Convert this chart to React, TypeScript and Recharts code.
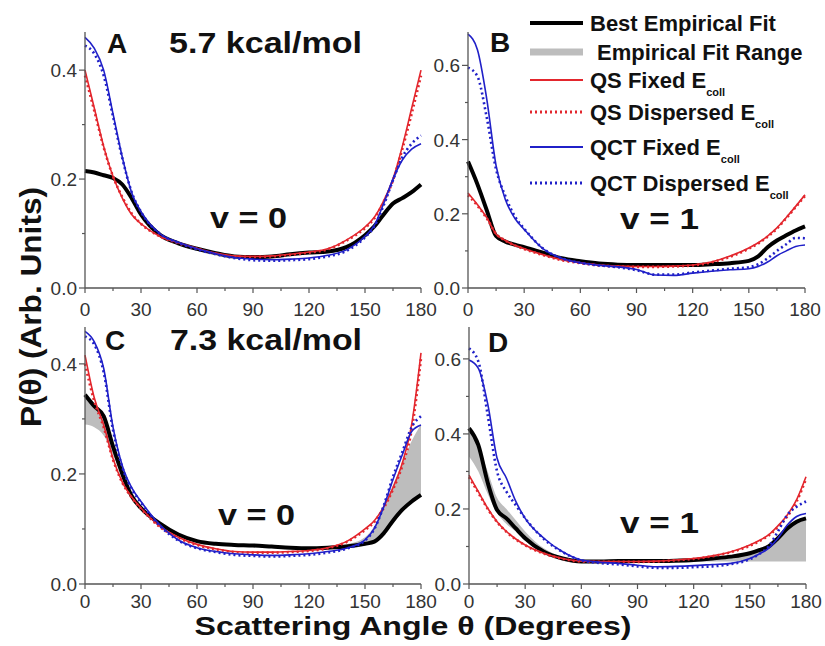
import React from "react";
import { ComposedChart, Line, Area, XAxis, YAxis } from "recharts";

// scattering angle grid (degrees) shared by every panel
const theta = [0, 5, 10, 15, 20, 25, 30, 40, 50, 60, 70, 80, 90, 100, 110, 120, 130, 140, 150, 155, 160, 165, 170, 175, 180];

// Panel A: 5.7 kcal/mol, v = 0
const aBest = [0.215, 0.212, 0.207, 0.202, 0.19, 0.165, 0.135, 0.098, 0.082, 0.072, 0.064, 0.058, 0.057, 0.058, 0.062, 0.065, 0.067, 0.075, 0.097, 0.113, 0.135, 0.155, 0.165, 0.176, 0.19];
const aQsFixed = [0.4, 0.33, 0.26, 0.205, 0.165, 0.135, 0.118, 0.095, 0.083, 0.073, 0.064, 0.059, 0.058, 0.059, 0.062, 0.066, 0.072, 0.088, 0.112, 0.13, 0.16, 0.2, 0.26, 0.33, 0.4];
const aQsDisp = [0.39, 0.325, 0.258, 0.205, 0.167, 0.137, 0.118, 0.095, 0.082, 0.072, 0.063, 0.058, 0.057, 0.058, 0.061, 0.065, 0.071, 0.087, 0.11, 0.128, 0.158, 0.198, 0.255, 0.32, 0.39];
const aQctFixed = [0.46, 0.44, 0.4, 0.32, 0.24, 0.175, 0.14, 0.1, 0.084, 0.072, 0.063, 0.056, 0.053, 0.052, 0.053, 0.055, 0.06, 0.07, 0.095, 0.115, 0.155, 0.2, 0.235, 0.255, 0.265];
const aQctDisp = [0.445, 0.43, 0.39, 0.315, 0.238, 0.176, 0.14, 0.1, 0.083, 0.071, 0.062, 0.055, 0.051, 0.05, 0.051, 0.053, 0.058, 0.068, 0.093, 0.113, 0.152, 0.198, 0.24, 0.265, 0.28];

// Panel B: 5.7 kcal/mol, v = 1
const bBest = [0.341, 0.28, 0.21, 0.14, 0.125, 0.117, 0.11, 0.095, 0.08, 0.072, 0.066, 0.063, 0.062, 0.062, 0.062, 0.062, 0.064, 0.067, 0.073, 0.085, 0.11, 0.128, 0.142, 0.155, 0.166];
const bQsFixed = [0.256, 0.225, 0.19, 0.145, 0.128, 0.115, 0.106, 0.09, 0.076, 0.068, 0.062, 0.059, 0.058, 0.058, 0.059, 0.062, 0.07, 0.086, 0.108, 0.122, 0.14, 0.162, 0.19, 0.22, 0.251];
const bQsDisp = [0.25, 0.222, 0.188, 0.146, 0.128, 0.115, 0.105, 0.089, 0.075, 0.067, 0.061, 0.058, 0.057, 0.057, 0.058, 0.061, 0.069, 0.084, 0.106, 0.12, 0.138, 0.16, 0.188, 0.218, 0.248];
const bQctFixed = [0.684, 0.643, 0.51, 0.33, 0.238, 0.188, 0.158, 0.106, 0.08, 0.068, 0.061, 0.057, 0.05, 0.035, 0.034, 0.04, 0.045, 0.049, 0.052, 0.058, 0.07, 0.087, 0.1, 0.112, 0.116];
const bQctDisp = [0.594, 0.571, 0.46, 0.32, 0.247, 0.193, 0.16, 0.107, 0.08, 0.068, 0.061, 0.056, 0.048, 0.036, 0.036, 0.042, 0.047, 0.052, 0.056, 0.064, 0.08, 0.1, 0.118, 0.135, 0.134];

// Panel C: 7.3 kcal/mol, v = 0
const cBest = [0.344, 0.323, 0.305, 0.25, 0.2, 0.16, 0.138, 0.11, 0.09, 0.078, 0.073, 0.071, 0.07, 0.068, 0.066, 0.065, 0.066, 0.068, 0.073, 0.077, 0.092, 0.115, 0.135, 0.15, 0.162];
const cLow = [0.29, 0.285, 0.27, 0.235, 0.196, 0.158, 0.136, 0.108, 0.088, 0.076, 0.071, 0.069, 0.068, 0.066, 0.064, 0.063, 0.064, 0.066, 0.071, 0.077, 0.092, 0.115, 0.135, 0.15, 0.162];
const cHigh = [0.344, 0.323, 0.305, 0.25, 0.2, 0.16, 0.138, 0.11, 0.09, 0.078, 0.073, 0.071, 0.07, 0.068, 0.066, 0.065, 0.067, 0.072, 0.085, 0.105, 0.14, 0.18, 0.22, 0.26, 0.29];
const cQsFixed = [0.416, 0.338, 0.289, 0.228, 0.185, 0.158, 0.138, 0.105, 0.085, 0.072, 0.064, 0.059, 0.058, 0.058, 0.059, 0.061, 0.066, 0.077, 0.1, 0.115, 0.14, 0.175, 0.22, 0.29, 0.42];
const cQsDisp = [0.4, 0.332, 0.285, 0.226, 0.184, 0.157, 0.137, 0.104, 0.084, 0.071, 0.063, 0.058, 0.057, 0.057, 0.058, 0.06, 0.065, 0.076, 0.098, 0.113, 0.138, 0.172, 0.215, 0.28, 0.41];
const cQctFixed = [0.459, 0.44, 0.392, 0.285, 0.215, 0.175, 0.15, 0.108, 0.08, 0.066, 0.059, 0.055, 0.053, 0.052, 0.053, 0.055, 0.059, 0.065, 0.08, 0.101, 0.14, 0.19, 0.235, 0.277, 0.289];
const cQctDisp = [0.45, 0.435, 0.385, 0.28, 0.212, 0.173, 0.148, 0.106, 0.079, 0.065, 0.058, 0.053, 0.051, 0.05, 0.051, 0.053, 0.057, 0.064, 0.079, 0.1, 0.142, 0.195, 0.24, 0.285, 0.305];

// Panel D: 7.3 kcal/mol, v = 1
const dBest = [0.415, 0.37, 0.27, 0.197, 0.175, 0.148, 0.122, 0.086, 0.068, 0.06, 0.06, 0.061, 0.061, 0.061, 0.062, 0.064, 0.068, 0.073, 0.082, 0.09, 0.1, 0.122, 0.148, 0.166, 0.175];
const dLow = [0.34, 0.3, 0.24, 0.19, 0.16, 0.14, 0.115, 0.083, 0.066, 0.058, 0.059, 0.06, 0.06, 0.06, 0.06, 0.06, 0.06, 0.06, 0.06, 0.06, 0.06, 0.06, 0.06, 0.06, 0.06];
const dHigh = [0.415, 0.37, 0.3, 0.23, 0.2, 0.17, 0.14, 0.095, 0.072, 0.062, 0.062, 0.062, 0.062, 0.062, 0.064, 0.066, 0.07, 0.075, 0.085, 0.095, 0.105, 0.125, 0.15, 0.168, 0.178];
const dQsFixed = [0.29, 0.246, 0.202, 0.166, 0.14, 0.12, 0.104, 0.082, 0.068, 0.061, 0.06, 0.06, 0.06, 0.061, 0.064, 0.068, 0.075, 0.086, 0.104, 0.116, 0.131, 0.155, 0.184, 0.225, 0.286];
const dQsDisp = [0.285, 0.243, 0.2, 0.165, 0.139, 0.119, 0.103, 0.081, 0.067, 0.06, 0.059, 0.059, 0.059, 0.06, 0.063, 0.067, 0.074, 0.085, 0.102, 0.114, 0.129, 0.152, 0.18, 0.22, 0.28];
const dQctFixed = [0.597, 0.575, 0.48, 0.335, 0.282, 0.22, 0.175, 0.122, 0.086, 0.064, 0.058, 0.055, 0.05, 0.046, 0.047, 0.049, 0.052, 0.055, 0.068, 0.08, 0.095, 0.122, 0.157, 0.18, 0.188];
const dQctDisp = [0.628, 0.593, 0.45, 0.3, 0.246, 0.21, 0.175, 0.12, 0.085, 0.063, 0.056, 0.052, 0.047, 0.043, 0.043, 0.045, 0.047, 0.053, 0.066, 0.08, 0.1, 0.14, 0.184, 0.206, 0.22];

const xTicks = [0, 15, 30, 45, 60, 75, 90, 105, 120, 135, 150, 165, 180];
const yTicksLow = [0, 0.1, 0.2, 0.3, 0.4];
const yTicksHigh = [0, 0.1, 0.2, 0.3, 0.4, 0.5, 0.6];

const RED = "#e3262d";
const BLUE = "#2020c8";
const GRAY = "#bdbdbd";
const AXIS = "#555";
const FONT = '"Liberation Sans", Arial, sans-serif';

function buildRows(best, qsFixed, qsDisp, qctFixed, qctDisp, low?, high?) {
  return theta.map((t, i) => ({
    theta: t,
    best: best[i],
    qsFixed: qsFixed[i],
    qsDisp: qsDisp[i],
    qctFixed: qctFixed[i],
    qctDisp: qctDisp[i],
    range: low && high ? [low[i], high[i]] : undefined,
  }));
}

// x tick: labels only on multiples of 30, short minor ticks in between
const makeXTick = (labelOffset) => (props) => {
  const { x, y, payload } = props;
  const v = payload.value;
  const major = v % 30 === 0;
  return (
    <g>
      <line x1={x} x2={x} y1={y} y2={y + (major ? 5 : 3)} stroke={AXIS} strokeWidth={1.2} />
      {major && (
        <text x={x} y={y + labelOffset} textAnchor="middle" fontSize={19} fill="#333" fontFamily={FONT}>
          {v}
        </text>
      )}
    </g>
  );
};

const YTick = (props) => {
  const { x, y, payload } = props;
  const v = payload.value;
  const major = Math.round(v * 10) % 2 === 0;
  return (
    <g>
      <line x1={x} x2={x - (major ? 6 : 3)} y1={y} y2={y} stroke={AXIS} strokeWidth={1.2} />
      {major && (
        <text x={x - 8} y={y + 7} textAnchor="end" fontSize={19} fill="#333" fontFamily={FONT}>
          {v.toFixed(1)}
        </text>
      )}
    </g>
  );
};

function Panel({ rows, yMax, yTicks, plotX, plotY, plotW, plotH, showRange, labelOffset }) {
  return (
    <div style={{ position: "absolute", left: plotX - 60, top: plotY - 5 }}>
      <ComposedChart
        width={plotW + 85}
        height={plotH + 45}
        data={rows}
        margin={{ top: 5, right: 25, left: 0, bottom: 0 }}
      >
        <XAxis
          dataKey="theta"
          type="number"
          domain={[0, 180]}
          ticks={xTicks}
          interval={0}
          tickSize={0}
          tickMargin={0}
          tickLine={false}
          tick={makeXTick(labelOffset)}
          height={40}
          axisLine={{ stroke: AXIS, strokeWidth: 1.3 }}
        />
        <YAxis
          type="number"
          domain={[0, yMax]}
          ticks={yTicks}
          interval={0}
          tickSize={0}
          tickMargin={0}
          tickLine={false}
          tick={YTick}
          width={60}
          allowDataOverflow
          axisLine={{ stroke: AXIS, strokeWidth: 1.3 }}
        />
        {showRange && (
          <Area
            dataKey="range"
            type="monotone"
            fill={GRAY}
            fillOpacity={1}
            stroke="none"
            isAnimationActive={false}
          />
        )}
        <Line dataKey="best" type="monotone" stroke="#000" strokeWidth={4} dot={false} isAnimationActive={false} />
        <Line dataKey="qsFixed" type="monotone" stroke={RED} strokeWidth={1.6} dot={false} isAnimationActive={false} />
        <Line dataKey="qsDisp" type="monotone" stroke={RED} strokeWidth={2.6} strokeDasharray="2 3" dot={false} isAnimationActive={false} />
        <Line dataKey="qctFixed" type="monotone" stroke={BLUE} strokeWidth={1.6} dot={false} isAnimationActive={false} />
        <Line dataKey="qctDisp" type="monotone" stroke={BLUE} strokeWidth={2.6} strokeDasharray="2 3" dot={false} isAnimationActive={false} />
      </ComposedChart>
    </div>
  );
}

const legendItems = [
  { label: "Best Empirical Fit", color: "#000", width: 4, dash: undefined, sub: false, y: 23, tx: 590 },
  { label: "Empirical Fit Range", color: GRAY, width: 7, dash: undefined, sub: false, y: 52, tx: 597 },
  { label: "QS Fixed E", color: RED, width: 1.8, dash: undefined, sub: true, y: 80, tx: 590 },
  { label: "QS Dispersed E", color: RED, width: 2.8, dash: "2 3", sub: true, y: 112, tx: 590 },
  { label: "QCT Fixed E", color: BLUE, width: 1.8, dash: undefined, sub: true, y: 147, tx: 590 },
  { label: "QCT Dispersed E", color: BLUE, width: 2.8, dash: "2 3", sub: true, y: 183, tx: 590 },
];

export default function App() {
  const rowsA = buildRows(aBest, aQsFixed, aQsDisp, aQctFixed, aQctDisp);
  const rowsB = buildRows(bBest, bQsFixed, bQsDisp, bQctFixed, bQctDisp);
  const rowsC = buildRows(cBest, cQsFixed, cQsDisp, cQctFixed, cQctDisp, cLow, cHigh);
  const rowsD = buildRows(dBest, dQsFixed, dQsDisp, dQctFixed, dQctDisp, dLow, dHigh);

  const big = { fontFamily: FONT, fontWeight: 700, fill: "#111" } as const;

  return (
    <div style={{ position: "absolute", left: 0, top: 0, width: 825, height: 646, background: "#fff", overflow: "hidden" }}>
      <Panel rows={rowsA} yMax={0.47} yTicks={yTicksLow} plotX={85} plotY={32} plotW={336} plotH={256} showRange={false} labelOffset={28} />
      <Panel rows={rowsB} yMax={0.69} yTicks={yTicksHigh} plotX={468} plotY={32} plotW={337} plotH={256} showRange={false} labelOffset={28} />
      <Panel rows={rowsC} yMax={0.467} yTicks={yTicksLow} plotX={85} plotY={327} plotW={336} plotH={257} showRange labelOffset={24} />
      <Panel rows={rowsD} yMax={0.685} yTicks={yTicksHigh} plotX={469} plotY={327} plotW={337} plotH={257} showRange labelOffset={24} />

      <svg width={825} height={646} style={{ position: "absolute", left: 0, top: 0, pointerEvents: "none" }}>
        {/* panel titles */}
        <text x={117} y={53} textAnchor="middle" fontSize={28} {...big}>A</text>
        <text x={169} y={53} fontSize={30} textLength={193} lengthAdjust="spacingAndGlyphs" {...big}>5.7 kcal/mol</text>
        <text x={500} y={52} textAnchor="middle" fontSize={28} {...big}>B</text>
        <text x={115} y={350} textAnchor="middle" fontSize={28} {...big}>C</text>
        <text x={170} y={350} fontSize={30} textLength={192} lengthAdjust="spacingAndGlyphs" {...big}>7.3 kcal/mol</text>
        <text x={498} y={352} textAnchor="middle" fontSize={28} {...big}>D</text>

        <text x={210} y={228} fontSize={29} textLength={77} lengthAdjust="spacingAndGlyphs" {...big}>v = 0</text>
        <text x={620} y={229} fontSize={29} textLength={79} lengthAdjust="spacingAndGlyphs" {...big}>v = 1</text>
        <text x={218} y={525} fontSize={29} textLength={77} lengthAdjust="spacingAndGlyphs" {...big}>v = 0</text>
        <text x={620} y={533} fontSize={29} textLength={79} lengthAdjust="spacingAndGlyphs" {...big}>v = 1</text>

        {/* legend */}
        {legendItems.map((it) => (
          <g key={it.label}>
            <line x1={530} x2={583} y1={it.y} y2={it.y} stroke={it.color} strokeWidth={it.width} strokeDasharray={it.dash} />
            <text x={it.tx} y={it.y + 8} fontSize={22} {...big}>
              {it.label}
              {it.sub && (
                <tspan fontSize={11} dy={8}>coll</tspan>
              )}
            </text>
          </g>
        ))}

        {/* axis titles */}
        <text
          transform="translate(41,307) rotate(-90)"
          textAnchor="middle"
          fontSize={30}
          textLength={240}
          lengthAdjust="spacingAndGlyphs"
          {...big}
        >
          P(θ) (Arb. Units)
        </text>
        <text x={413} y={635} textAnchor="middle" fontSize={26} textLength={437} lengthAdjust="spacingAndGlyphs" {...big}>
          Scattering Angle θ (Degrees)
        </text>
      </svg>
    </div>
  );
}
